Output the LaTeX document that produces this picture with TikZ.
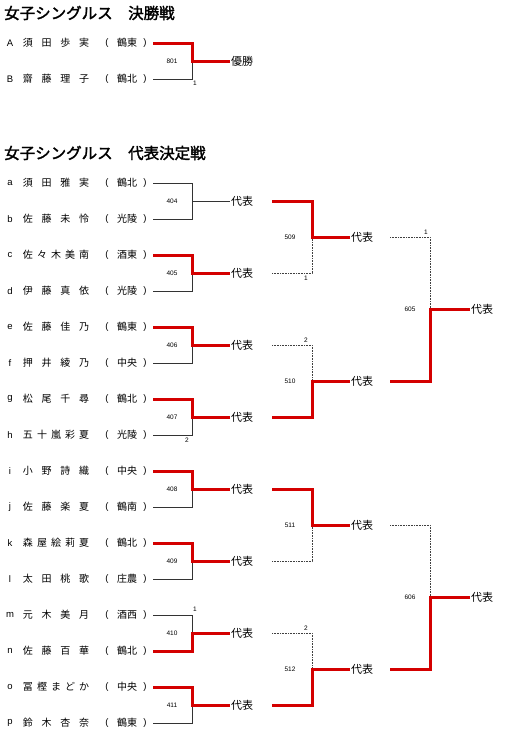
\documentclass[tikz,border=0pt]{standalone}
\usepackage{fontspec}
\setmainfont{Liberation Sans}
\newfontfamily\jp{Noto Sans CJK JP}
\newfontfamily\jpb[FakeBold=2]{Noto Sans CJK JP}
\definecolor{winred}{RGB}{212,0,0}
\newcommand\plr[6]{%
  \node[lat] (#2-l) at (10,#1) {#3};
  \foreach \c [count=\i] in {#5} {\node[jpn] (#2-\i) at ({28+(\i-1)*56/(#4-1)},#1) {\c};}
  \node[lat] (#2-o) at (107,#1) {(};
  \node[jpn] (#2-s) at (127,#1) {#6};
  \node[lat] (#2-c) at (145,#1) {)};
  \coordinate (#2) at (153,#1);
}
\begin{document}
\begin{tikzpicture}[x=1pt,y=-1pt,
  lat/.style={font=\fontsize{9.5}{10}\selectfont, inner sep=0},
  jpn/.style={font=\jp\fontsize{10}{11}\selectfont, inner sep=0},
  ttl/.style={font=\jpb\fontsize{15.5}{16}\selectfont, anchor=west, inner sep=0},
  rep/.style={font=\jp\fontsize{11}{12}\selectfont, anchor=west, inner sep=1pt},
  num/.style={font=\fontsize{6.5}{7}\selectfont, inner sep=0},
  lose/.style={draw=black!80, line width=0.8pt},
  win/.style={draw=winred, line width=3pt},
  dot/.style={draw=black!75, line width=0.6pt, densely dotted}]
\useasboundingbox (0,0) rectangle (512,756);

% ---------- Final ----------
\node[ttl] (t1) at (4,13) {女子シングルス　決勝戦};
\plr{43}{A}{A}{4}{須,田,歩,実}{鶴東}
\plr{79}{B}{B}{4}{齋,藤,理,子}{鶴北}
\coordinate (j801) at (192,61);
\node[rep] (r801) at (230,61) {優勝};
\node[num] (n801) at (172,61) {801};
\node[num] (s801) at (195,83) {1};
\draw[lose] (B) -| (j801);
\draw[win] (A) -| (j801) -- (r801.west);

% ---------- Representative ----------
\node[ttl] (t2) at (4,153) {女子シングルス　代表決定戦};
\plr{183}{a}{a}{4}{須,田,雅,実}{鶴北}
\plr{219}{b}{b}{4}{佐,藤,未,怜}{光陵}
\plr{255}{c}{c}{5}{佐,々,木,美,南}{酒東}
\plr{291}{d}{d}{4}{伊,藤,真,依}{光陵}
\plr{327}{e}{e}{4}{佐,藤,佳,乃}{鶴東}
\plr{363}{f}{f}{4}{押,井,綾,乃}{中央}
\plr{399}{g}{g}{4}{松,尾,千,尋}{鶴北}
\plr{435}{h}{h}{5}{五,十,嵐,彩,夏}{光陵}
\plr{471}{i}{i}{4}{小,野,詩,織}{中央}
\plr{507}{j}{j}{4}{佐,藤,楽,夏}{鶴南}
\plr{543}{k}{k}{5}{森,屋,絵,莉,夏}{鶴北}
\plr{579}{l}{l}{4}{太,田,桃,歌}{庄農}
\plr{615}{m}{m}{4}{元,木,美,月}{酒西}
\plr{651}{n}{n}{4}{佐,藤,百,華}{鶴北}
\plr{687}{o}{o}{5}{冨,樫,ま,ど,か}{中央}
\plr{723}{p}{p}{4}{鈴,木,杏,奈}{鶴東}

% round 1 junctions, labels, numbers
\foreach \m/\y in {404/201,405/273,406/345,407/417,408/489,409/561,410/633,411/705}{
  \coordinate (j\m) at (192,\y);
  \node[rep] (r\m) at (230,\y) {代表};
  \node[num] (n\m) at (172,\y) {\m};
  \coordinate (q\m) at (272,\y);
}
\node[num] (s407) at (187,440) {2};
\node[num] (s410) at (195,609) {1};

\draw[lose] (a) -| (j404); \draw[lose] (b) -| (j404); \draw[lose] (j404) -- (r404.west);
\draw[lose] (d) -| (j405); \draw[win] (c) -| (j405) -- (r405.west);
\draw[lose] (f) -| (j406); \draw[win] (e) -| (j406) -- (r406.west);
\draw[lose] (h) -| (j407); \draw[win] (g) -| (j407) -- (r407.west);
\draw[lose] (j) -| (j408); \draw[win] (i) -| (j408) -- (r408.west);
\draw[lose] (l) -| (j409); \draw[win] (k) -| (j409) -- (r409.west);
\draw[lose] (m) -| (j410); \draw[win] (n) -| (j410) -- (r410.west);
\draw[lose] (p) -| (j411); \draw[win] (o) -| (j411) -- (r411.west);

% round 2
\foreach \m/\y in {509/237,510/381,511/525,512/669}{
  \coordinate (j\m) at (312,\y);
  \node[rep] (r\m) at (350,\y) {代表};
  \node[num] (n\m) at (290,\y) {\m};
  \coordinate (q\m) at (390,\y);
}
\node[num] (s509) at (306,278) {1};
\node[num] (s510) at (306,340) {2};
\node[num] (s512) at (306,628) {2};

\draw[dot] (q405) -| (j509); \draw[win] (q404) -| (j509) -- (r509.west);
\draw[dot] (q406) -| (j510); \draw[win] (q407) -| (j510) -- (r510.west);
\draw[dot] (q409) -| (j511); \draw[win] (q408) -| (j511) -- (r511.west);
\draw[dot] (q410) -| (j512); \draw[win] (q411) -| (j512) -- (r512.west);

% round 3
\foreach \m/\y in {605/309,606/597}{
  \coordinate (j\m) at (430,\y);
  \node[rep] (r\m) at (470,\y) {代表};
  \node[num] (n\m) at (410,\y) {\m};
}
\node[num] (s605) at (426,232) {1};
\draw[dot] (q509) -| (j605); \draw[win] (q510) -| (j605) -- (r605.west);
\draw[dot] (q511) -| (j606); \draw[win] (q512) -| (j606) -- (r606.west);
\end{tikzpicture}
\end{document}
